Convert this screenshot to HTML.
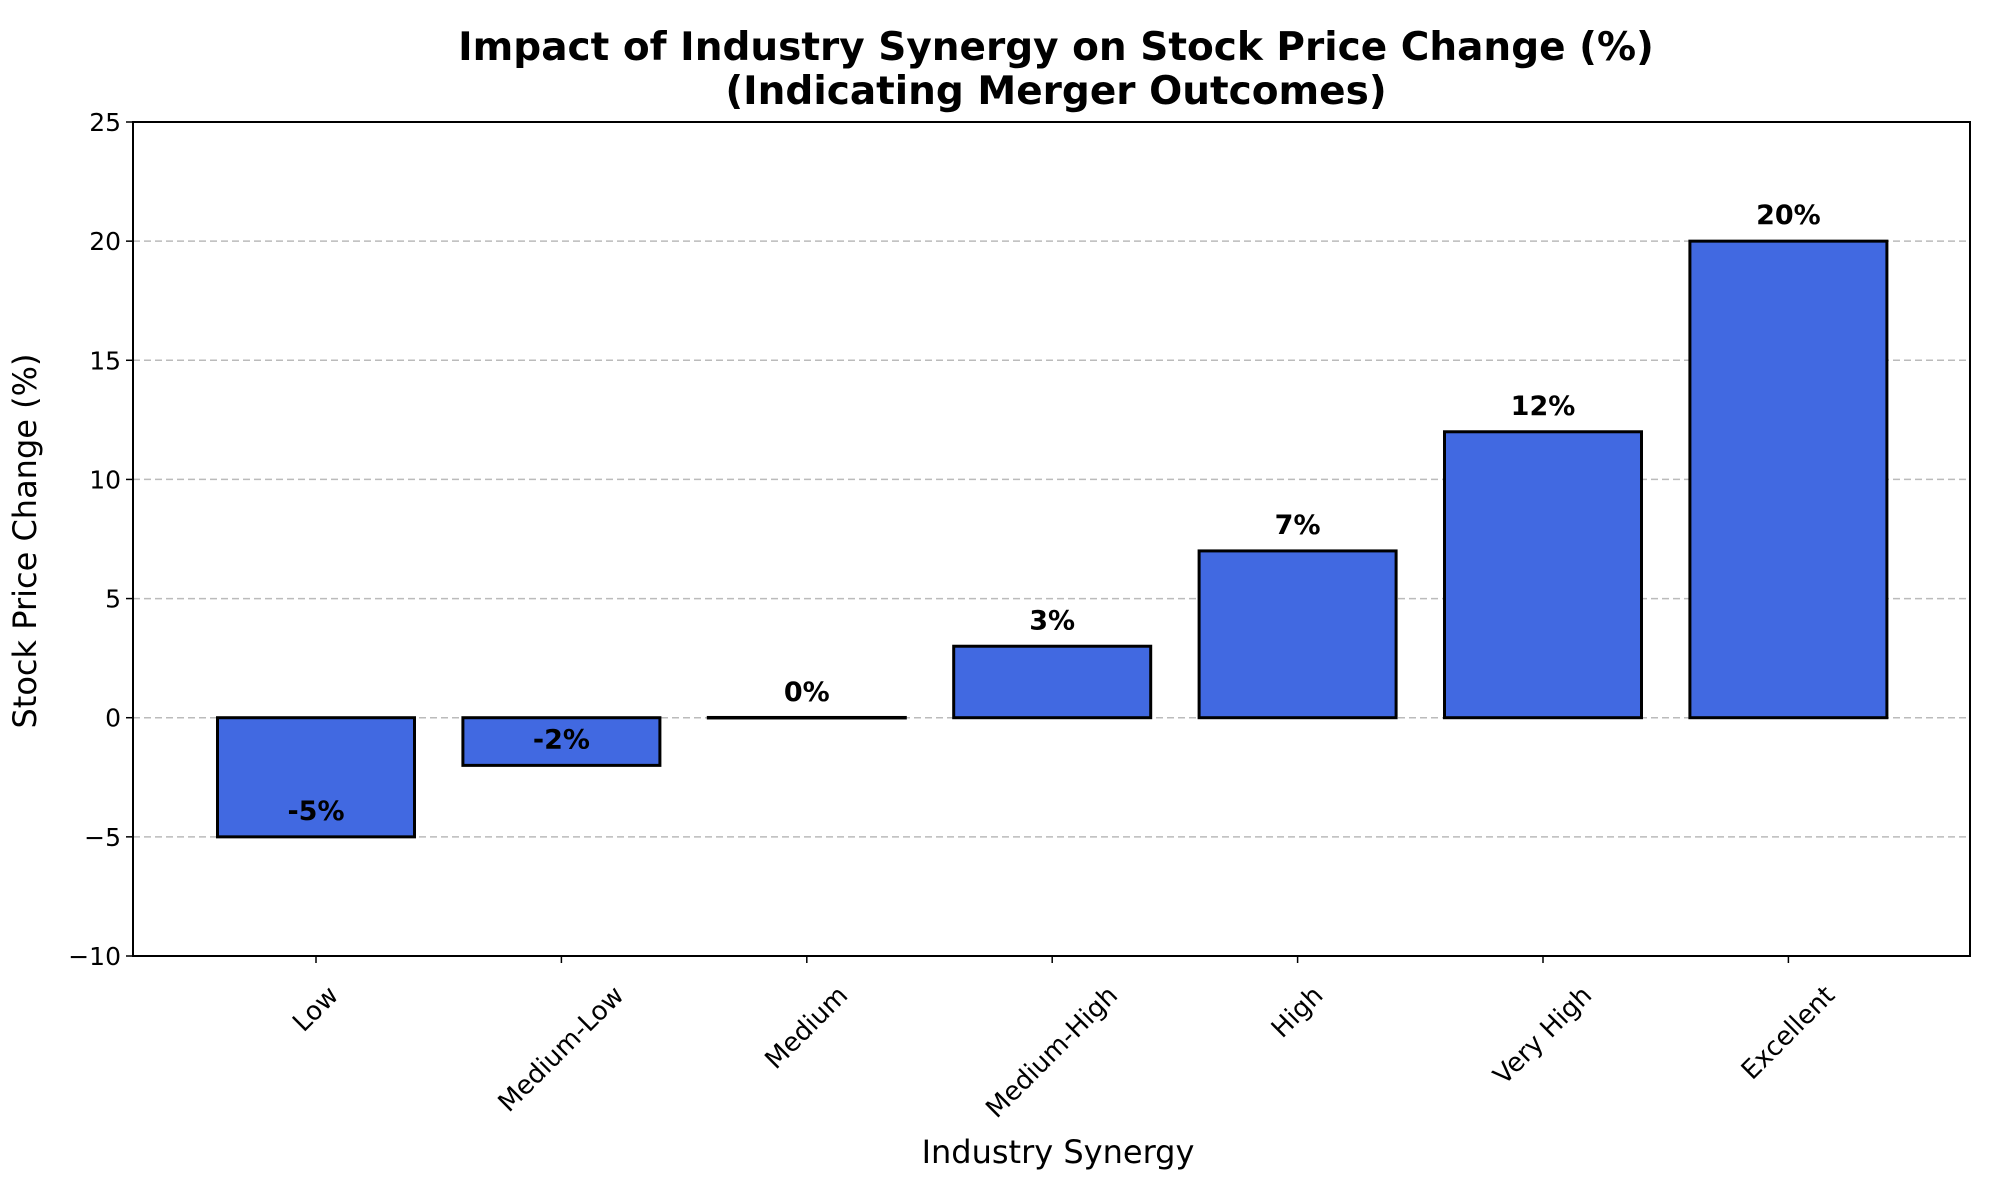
<!DOCTYPE html>
<html><head><meta charset="utf-8"><style>
html,body{margin:0;padding:0;background:#fff;}
svg{display:block;font-family:"DejaVu Sans","Liberation Sans",sans-serif;}
</style></head><body>
<svg id="chart" width="2000" height="1200" viewBox="0 0 2000 1200">
<text x="1056" y="60" text-anchor="middle" font-size="39" font-weight="bold">Impact of Industry Synergy on Stock Price Change (%)</text>
<text x="1056" y="104" text-anchor="middle" font-size="39" font-weight="bold">(Indicating Merger Outcomes)</text>
<g id="grid"></g><g id="bars"></g><g id="labels"></g><g id="axes"></g>
<text x="1058" y="1163" text-anchor="middle" font-size="32">Industry Synergy</text>
<text transform="translate(36,541) rotate(-90)" text-anchor="middle" font-size="32">Stock Price Change (%)</text>
</svg>
<script>
const categories=["Low","Medium-Low","Medium","Medium-High","High","Very High","Excellent"];
const values=[-5,-2,0,3,7,12,20];
const yTicks=[-10,-5,0,5,10,15,20,25];
const yTickLabels=["\u221210","\u22125","0","5","10","15","20","25"];
const gridTicks=[-5,0,5,10,15,20];

const L=133,R=1970,T=122,B=956,yMin=-10,yMax=25;
const NS="http://www.w3.org/2000/svg";
function y(v){return B-(v-yMin)/(yMax-yMin)*(B-T);}
const step=245.4,x0=316,bw=197;
function x(i){return x0+i*step;}
function mk(tag,attrs,parent){const e=document.createElementNS(NS,tag);for(const k in attrs)e.setAttribute(k,attrs[k]);document.getElementById(parent).appendChild(e);return e;}

gridTicks.forEach(t=>{
  const g=mk('line',{x1:L,x2:R,y1:y(t),y2:y(t),stroke:'#bbb','stroke-width':1.5,'stroke-dasharray':'7,4'},'grid');
  
  
});
values.forEach((v,i)=>{
  const top=Math.min(y(v),y(0)),h=Math.max(Math.abs(y(v)-y(0)),0.5);
  const b=mk('rect',{x:x(i)-bw/2,y:top-(h<1?0.25:0),width:bw,height:h,fill:'#4169e1',stroke:'#000','stroke-width':3},'bars');
  
  
  const t=mk('text',{x:x(i),y:y(v+0.5)-5,'text-anchor':'middle','font-size':27,'font-weight':'bold'},'labels');
  t.textContent=v+'%';
  
  
});
const fr=mk('rect',{x:L,y:T,width:R-L,height:B-T,fill:'none',stroke:'#000','stroke-width':2},'axes');


yTicks.forEach((t,i)=>{
  mk('line',{x1:L-7,x2:L,y1:y(t),y2:y(t),stroke:'#000','stroke-width':1.5},'axes');
  const l=mk('text',{x:L-12,y:y(t)+9,'text-anchor':'end','font-size':25},'axes');
  l.textContent=yTickLabels[i];
  
  
});
categories.forEach((c,i)=>{
  mk('line',{x1:x(i),x2:x(i),y1:B,y2:B+7,stroke:'#000','stroke-width':1.5},'axes');
  const l=mk('text',{'text-anchor':'middle','font-size':26,'dominant-baseline':'central'},'axes');
  l.textContent=c;
  
  
  const w=l.getComputedTextLength(),fh=26;
  const cy=B+26+(w+fh)*0.7071/2;
  l.setAttribute('transform',`translate(${x(i)},${cy}) rotate(-45)`);
});
</script>
</body></html>
